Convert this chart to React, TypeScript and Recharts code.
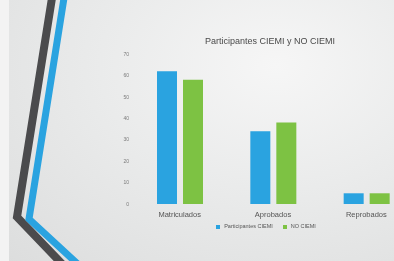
import React from 'react';
import { BarChart, Bar, XAxis, YAxis, Legend } from 'recharts';

// values (approximate)
const categories = ['Matriculados', 'Aprobados', 'Reprobados'];
const ciemi = [62, 34, 5];
const noCiemi = [58, 38, 5];
const yTicks = [0, 10, 20, 30, 40, 50, 60, 70];

const data = categories.map((name, i) => ({
  name,
  ciemi: ciemi[i],
  noCiemi: noCiemi[i],
}));

const BLUE = '#2aa3e0';
const GREEN = '#7dc243';
const FONT = '"Liberation Sans", Arial, sans-serif';

const App = () => {
  return (
    <div
      style={{
        position: 'fixed',
        left: 0,
        top: 0,
        width: 394,
        height: 261,
        overflow: 'hidden',
        background: 'radial-gradient(ellipse at 70% 25%, #f6f6f6 0%, #eaebeb 45%, #dcdddd 100%)',
        fontFamily: FONT,
      }}
    >
      {/* slide decoration */}
      <svg width={394} height={261} style={{ position: 'absolute', left: 0, top: 0 }}>
        <rect x={0} y={0} width={9} height={261} fill="#f3f3f3" />
        <polyline points="52,-2 17,217 66,268" fill="none" stroke="#4b4b4d" strokeWidth={8} />
        <polyline points="64,-2 29,219 82,268" fill="none" stroke={BLUE} strokeWidth={7} />
      </svg>
      <div
        style={{
          position: 'absolute',
          left: 170,
          top: 36,
          width: 200,
          textAlign: 'center',
          fontSize: 9,
          color: '#4a4a4a',
        }}
      >
        Participantes CIEMI y NO CIEMI
      </div>
      <div style={{ position: 'absolute', left: 0, top: 0 }}>
        <BarChart
          width={430}
          height={261}
          data={data}
          margin={{ top: 54, right: 17, left: 113, bottom: 37 }}
          barGap={6}
          barSize={20}
        >
          <XAxis
            dataKey="name"
            axisLine={false}
            tickLine={false}
            height={20}
            tick={{ fontSize: 7.5, fill: '#555', fontFamily: FONT }}
          />
          <YAxis
            domain={[0, 70]}
            ticks={yTicks}
            axisLine={false}
            tickLine={false}
            tickSize={0}
            tickMargin={4}
            width={20}
            tick={{ fontSize: 5, fill: '#7a7a7a', fontFamily: FONT }}
          />
          <Legend
            verticalAlign="middle"
            align="center"
            iconType="square"
            iconSize={4}
            itemSorter="dataKey"
            formatter={(value) => <span style={{ color: '#555' }}>{value}</span>}
            wrapperStyle={{ top: 223, left: 200, width: 142, fontSize: 5.5, lineHeight: '6px' }}
          />
          <Bar dataKey="ciemi" name="Participantes CIEMI" fill={BLUE} isAnimationActive={false} />
          <Bar dataKey="noCiemi" name="NO CIEMI" fill={GREEN} isAnimationActive={false} />
        </BarChart>
      </div>
    </div>
  );
};

export default App;
